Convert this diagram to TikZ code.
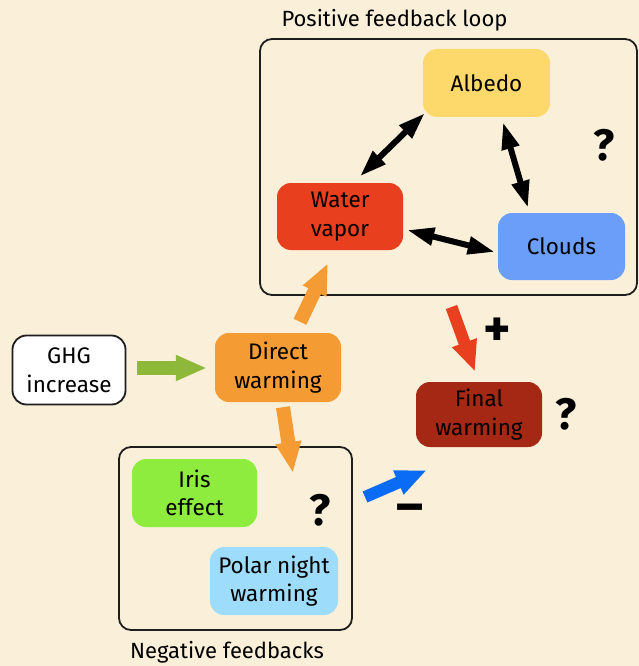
\documentclass[tikz,border=0pt]{standalone}
\usepackage{fontspec}
\setmainfont{Fira Sans}
\usetikzlibrary{arrows.meta,calc}
\definecolor{bg}{RGB}{250,240,218}
\definecolor{calbedo}{RGB}{253,217,107}
\definecolor{cwv}{RGB}{232,64,30}
\definecolor{cclouds}{RGB}{107,158,248}
\definecolor{cdirect}{RGB}{245,155,51}
\definecolor{cfinal}{RGB}{165,40,20}
\definecolor{ciris}{RGB}{142,236,62}
\definecolor{cpolar}{RGB}{158,220,251}
\definecolor{cgreen}{RGB}{141,184,58}
\definecolor{cblue}{RGB}{10,108,245}
\definecolor{cframe}{RGB}{30,30,30}
\tikzset{
  box/.style={rounded corners=14pt, inner sep=0pt, align=center,
    font=\fontsize{22.5}{28.5}\selectfont, text=black},
  group/.style={draw=cframe, line width=1.8pt, rounded corners=12pt},
  fat/.style={line width=14pt, -{Triangle[length=31pt,width=24pt]}},
  dbl/.style={black, line width=6pt, {Triangle[length=27pt,width=17pt]}-{Triangle[length=27pt,width=17pt]}},
  qmark/.style={font=\fontsize{44}{44}\selectfont\bfseries},
  sign/.style={font=\fontsize{52}{52}\selectfont\bfseries},
  grouplabel/.style={font=\fontsize{22}{24}\selectfont}
}
\begin{document}
\begin{tikzpicture}[x=1pt,y=-1pt]
\fill[bg] (0,0) rectangle (639,666);
\useasboundingbox (0,0) rectangle (639,666);

% groups
\draw[group] (260,39) rectangle (637,295);
\node[grouplabel] (postitle) at (394.5,20) {Positive feedback loop};
\draw[group] (119,447) rectangle (352,630);
\coordinate (negN) at (235.5,447);
\coordinate (negE) at (352,538.5);
\coordinate (posS) at (448.5,295);
\node[grouplabel] (negtitle) at (227,652) {Negative feedbacks};

% nodes
\node[box, fill=calbedo, minimum width=127pt, minimum height=68pt] (albedo) at (486.5,83) {Albedo};
\node[box, fill=cwv, minimum width=126pt, minimum height=67pt] (wv) at (340,216.5) {Water\\vapor};
\node[box, fill=cclouds, minimum width=127pt, minimum height=67pt] (clouds) at (561.5,246.5) {Clouds};
\node[box, fill=white, draw=cframe, line width=1.8pt, minimum width=113pt, minimum height=69pt] (ghg) at (69,370) {GHG\\increase};
\node[box, fill=cdirect, minimum width=126pt, minimum height=69pt] (direct) at (278,367.5) {Direct\\warming};
\node[box, fill=cfinal, minimum width=126pt, minimum height=65pt] (final) at (479,414.5) {Final\\warming};
\node[box, fill=ciris, minimum width=125pt, minimum height=68pt] (iris) at (194.5,493) {Iris\\effect};
\node[box, fill=cpolar, minimum width=128pt, minimum height=68pt] (polar) at (274,581) {Polar night\\warming};

\node[qmark] (q1) at (604,145) {?};
\node[qmark] (q2) at (566,414) {?};
\node[qmark] (q3) at (320,510) {?};
\node[sign] (plus) at (497,332) {+};
\node[sign] (minus) at (410,514) {–};

% black double arrows
\draw[dbl] ($(albedo.south west)+(2,-4)$) -- ($(wv.north)+(20,-6.5)$);
\draw[dbl] ($(albedo.south)+(16.5,5)$) -- ($(clouds.north)+(-33.5,-5)$);
\draw[dbl] ($(wv.east)+(4,13.5)$) -- ($(clouds.west)+(-3,5.5)$);

% coloured arrows
\draw[fat, cgreen] ($(ghg.east)+(11,-2)$) -- ($(direct.west)+(-8,0.5)$);
\draw[fat, cdirect] ($(direct.north)+(22,-11)$) -- ($(wv.south)+(-12,13)$);
\draw[fat, cdirect] ($(direct.south)+(5,5)$) -- ($(negN)+(57.5,26)$);
\draw[fat, cblue, line width=12pt] ($(negE)+(13,-41.5)$) -- ($(final.south west)+(11,23)$);
\draw[fat, cwv, line width=12pt] ($(posS)+(3,12)$) -- ($(final.north)+(-4,-10)$);
\end{tikzpicture}
\end{document}
